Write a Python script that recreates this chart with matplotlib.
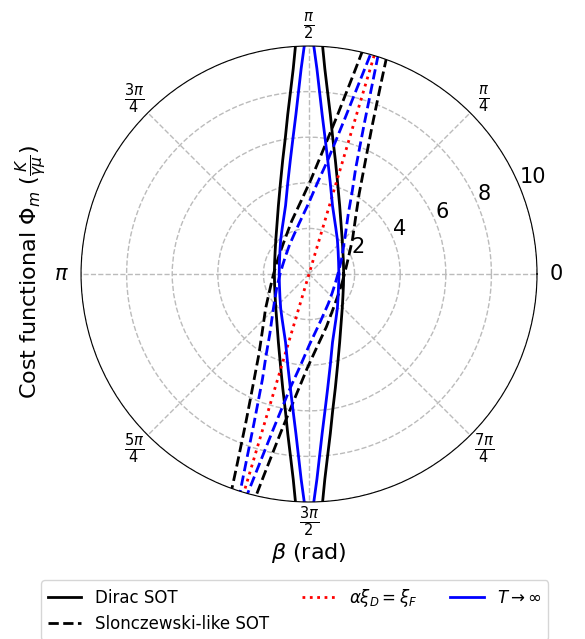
import numpy as np
import matplotlib.pyplot as plt

# one quadrant of each cost curve
# theta in degrees, r in units of K/(gamma mu); the rest follows by symmetry
dirac_theta = [0, 18.3, 33.9, 45.8, 54.6, 65.9, 72.6, 77.0, 80.2, 82.4, 84.2, 85.6, 86.6, 87.4]
dirac_r = [1.52, 1.59, 1.79, 2.09, 2.45, 3.29, 4.19, 5.13, 6.09, 7.06, 8.04, 9.03, 10.02, 11.01]

tinf_theta = [0, 21.0, 38.0, 50.4, 59.5, 71.05, 76.9, 80.7, 83.35, 85.3, 86.7, 87.8, 88.8, 89.5]
tinf_r = [1.31, 1.39, 1.62, 1.95, 2.32, 3.17, 4.11, 5.07, 6.04, 7.02, 8.01, 9.01, 10.0, 11.0]

slon_theta = [0, 18.55, 34.4, 46.4, 55.2, 67.5, 74.6, 78.7, 81.5, 83.5, 84.9, 86.0, 86.85, 87.55]
slon_r = [1.50, 1.57, 1.77, 2.07, 2.44, 3.25, 4.15, 5.10, 6.07, 7.05, 8.03, 9.02, 10.02, 11.01]

slon_tinf_theta = [0, 22.45, 40.3, 53.25, 62.3, 73.3, 78.97, 82.7, 84.86, 86.4, 87.5, 88.35, 89.03, 89.58]
slon_tinf_r = [1.22, 1.31, 1.55, 1.87, 2.26, 3.13, 4.08, 5.04, 6.02, 7.01, 8.01, 9.0, 10.0, 11.0]

# Slonczewski-like curves are turned by this angle (deg)
slon_tilt = -16.6

# alpha xi_D = xi_F line through the origin
ratio_theta = [73.4, 73.4, 253.4, 253.4]
ratio_r = [10, 0, 0, 10]

theta_ticks = ['0', r'$\frac{\pi}{4}$', r'$\frac{\pi}{2}$', r'$\frac{3\pi}{4}$',
               r'$\pi$', r'$\frac{5\pi}{4}$', r'$\frac{3\pi}{2}$', r'$\frac{7\pi}{4}$']
r_ticks = [2, 4, 6, 8, 10]


def full_curve(th, r, tilt=0.0):
    # mirror the quadrant into a closed curve
    th = np.array(th)
    r = np.array(r)
    t = np.concatenate([th, 180 - th[::-1], 180 + th, 360 - th[::-1]]) + tilt
    rr = np.concatenate([r, r[::-1], r, r[::-1]])
    return np.deg2rad(t), rr


fig = plt.figure(figsize=(5.85, 6.39), dpi=100)
ax = fig.add_axes([0.1385, 0.2144, 0.7795, 0.7136], projection='polar')

t, r = full_curve(dirac_theta, dirac_r)
ax.plot(t, r, color='black', lw=2, label='Dirac SOT')
t, r = full_curve(slon_theta, slon_r, slon_tilt)
ax.plot(t, r, color='black', lw=2, ls='--', label='Slonczewski-like SOT')
ax.plot(np.deg2rad(ratio_theta), ratio_r, color='red', lw=2, ls=':',
        label=r'$\alpha\xi_D = \xi_F$')
t, r = full_curve(tinf_theta, tinf_r)
ax.plot(t, r, color='blue', lw=2, label=r'$T \rightarrow \infty$')
t, r = full_curve(slon_tinf_theta, slon_tinf_r, slon_tilt)
ax.plot(t, r, color='blue', lw=2, ls='--')

ax.set_ylim(0, 10)
ax.set_yticks(r_ticks)
ax.set_xticks(np.arange(8) * np.pi / 4)
ax.set_xticklabels(theta_ticks)
ax.tick_params(labelsize=15)
ax.grid(True, linestyle='--', color='#bbbbbb', lw=1)

fig.text(0.054, 0.574, r'Cost functional $\Phi_m$ $(\frac{K}{\gamma\mu})$',
         rotation=90, ha='center', va='center', fontsize=16)
fig.text(0.528, 0.135, r'$\beta$ (rad)', ha='center', va='center', fontsize=16)

ax.legend(loc='upper center', bbox_to_anchor=(0.469, -0.1535), ncol=3, fontsize=12)

fig.savefig('out.png', dpi=100)
